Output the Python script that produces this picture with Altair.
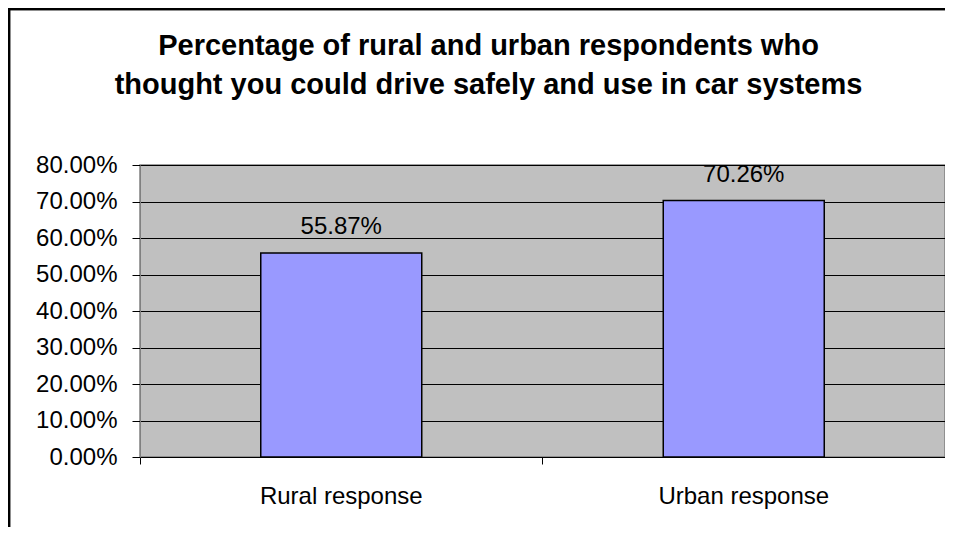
import altair as alt
import pandas as pd

categories = ["Rural response", "Urban response"]
values = [0.5587, 0.7026]
y_ticks = [0.0, 0.1, 0.2, 0.3, 0.4, 0.5, 0.6, 0.7, 0.8]
title_lines = ["Percentage of rural and urban respondents who",
               "thought you could drive safely and use in car systems"]

df = pd.DataFrame({"category": categories, "value": values})

FONT = "Liberation Sans"

x_enc = alt.X("category:N", sort=categories, title=None,
              scale=alt.Scale(paddingInner=0, paddingOuter=0),
              axis=alt.Axis(labelAngle=0, labelFont=FONT, labelFontSize=24,
                            labelColor="black", bandPosition=0, tickSize=7,
                            tickColor="black", domainColor="black",
                            labelPadding=20, grid=False))
y_enc = alt.Y("value:Q", title=None,
              scale=alt.Scale(domain=[0, 0.8], nice=False),
              axis=alt.Axis(values=y_ticks, format=".2%", labelFont=FONT,
                            labelFontSize=24, labelColor="black", tickSize=8,
                            tickColor="black", labelPadding=15,
                            labelOverlap=False,
                            domainColor="#808080", grid=True,
                            gridColor="black", gridOpacity=1, gridWidth=1))

base = alt.Chart(df).encode(x=x_enc, y=y_enc)

bars = base.mark_bar(
    color="#9999FF", stroke="black", strokeWidth=1.5,
    width=alt.RelativeBandSize(0.4)
)

labels = base.mark_text(
    font=FONT, fontSize=24, color="black", baseline="alphabetic", dy=-19
).encode(text=alt.Text("value:Q", format=".2%"))

frame = alt.Chart(df).mark_rect(
    fill=None, stroke="black", strokeWidth=2.5, clip=False
).encode(x=alt.value(-131), x2=alt.value(2000),
         y=alt.value(-156), y2=alt.value(1000))

chart = alt.layer(bars, labels, frame).properties(
    width=805, height=292,
    padding={"left": 132, "top": 157, "right": 0, "bottom": 70},
    autosize=alt.AutoSizeParams(type="none"),
    title=alt.TitleParams(text=title_lines, font=FONT, fontSize=29,
                          fontWeight="bold", color="black", anchor="middle",
                          frame="group", dx=-54, offset=-92, lineHeight=39),
).configure_view(fill="#C0C0C0", stroke="#808080", strokeWidth=1.5)

chart.save("out.html", embed_options={"renderer": "svg", "actions": False})
